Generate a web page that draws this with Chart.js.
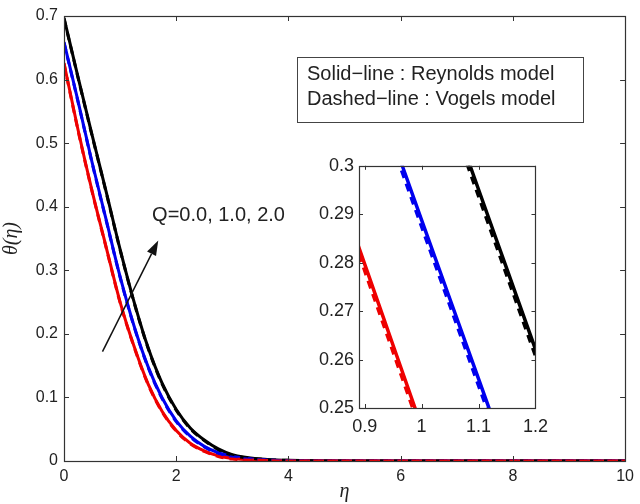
<!DOCTYPE html>
<html>
<head>
<meta charset="utf-8">
<script src="https://cdn.jsdelivr.net/npm/chart.js@4"></script>
<style>
  body { margin: 0; background: #fff; }
  #wrap { position: relative; width: 640px; height: 504px; }
  #main { position: absolute; left: 0; top: 0; }
  #inset { position: absolute; left: 316px; top: 150px; }
</style>
</head>
<body>
<div id="wrap">
  <canvas id="main" width="640" height="504"></canvas>
  <canvas id="inset" width="240" height="290"></canvas>
</div>
<script>
// ---- main plot data ----
const eta = [0, 0.25, 0.5, 0.75, 1, 1.25, 1.5, 1.75, 2, 2.25, 2.5, 2.75, 3, 3.5, 4, 5, 6, 7, 8, 9, 10];
const q0Solid  = [0.626, 0.521, 0.425, 0.337, 0.250, 0.180, 0.121, 0.078, 0.048, 0.028, 0.016, 0.008, 0.004, 0.001, 0, 0, 0, 0, 0, 0, 0];
const q1Solid  = [0.659, 0.566, 0.470, 0.380, 0.290, 0.212, 0.148, 0.099, 0.063, 0.039, 0.023, 0.013, 0.007, 0.002, 0.0005, 0, 0, 0, 0, 0, 0];
const q2Solid  = [0.697, 0.604, 0.513, 0.424, 0.333, 0.250, 0.178, 0.122, 0.081, 0.052, 0.033, 0.019, 0.010, 0.003, 0.001, 0, 0, 0, 0, 0, 0];
const q0Dashed = [0.625, 0.520, 0.424, 0.336, 0.249, 0.179, 0.120, 0.077, 0.047, 0.027, 0.015, 0.007, 0.003, 0.001, 0, 0, 0, 0, 0, 0, 0];
const q1Dashed = [0.658, 0.565, 0.469, 0.379, 0.289, 0.211, 0.147, 0.098, 0.062, 0.038, 0.022, 0.012, 0.006, 0.002, 0.0005, 0, 0, 0, 0, 0, 0];
const q2Dashed = [0.696, 0.603, 0.512, 0.423, 0.332, 0.249, 0.177, 0.121, 0.080, 0.051, 0.032, 0.018, 0.009, 0.003, 0.001, 0, 0, 0, 0, 0, 0];
const xTicks = [0, 2, 4, 6, 8, 10];
const yTicks = [0, 0.1, 0.2, 0.3, 0.4, 0.5, 0.6, 0.7];

// ---- inset (zoom) data ----
const insetEta = [0.85, 0.9, 0.95, 1.0, 1.05, 1.1, 1.15, 1.2, 1.25];
const inQ0Solid  = [0.2966, 0.2797, 0.2629, 0.2461, 0.2293, 0.2126, 0.1960, 0.1795, 0.1630];
const inQ1Solid  = [0.3384, 0.3218, 0.3053, 0.2888, 0.2724, 0.2560, 0.2396, 0.2233, 0.2070];
const inQ2Solid  = [0.3780, 0.3613, 0.3447, 0.3281, 0.3116, 0.2951, 0.2786, 0.2621, 0.2457];
const inQ0Dashed = [0.2954, 0.2785, 0.2617, 0.2449, 0.2281, 0.2114, 0.1948, 0.1783, 0.1618];
const inQ1Dashed = [0.3372, 0.3206, 0.3041, 0.2876, 0.2712, 0.2548, 0.2384, 0.2221, 0.2058];
const inQ2Dashed = [0.3768, 0.3601, 0.3435, 0.3269, 0.3104, 0.2939, 0.2774, 0.2609, 0.2445];
const insetXTicks = [0.9, 1, 1.1, 1.2];
const insetYTicks = [0.25, 0.26, 0.27, 0.28, 0.29, 0.3];

// annotation text and arrow (data units)
const qLabel = 'Q=0.0, 1.0, 2.0';
const qLabelAt = [1.57, 0.377];
const arrowFrom = [0.686, 0.172];
const arrowTo = [1.68, 0.347];
const legendLines = ['Solid\u2212line : Reynolds model', 'Dashed\u2212line : Vogels model'];

const RED = '#ee0000', BLUE = '#0000ee', BLACK = '#000000';
const SANS = '"Liberation Sans", Arial, Helvetica, sans-serif';

function pts(xs, ys) { return xs.map((v, i) => ({x: v, y: ys[i]})); }

function line(data, color, dashed, width) {
  return {
    data: data,
    borderColor: color,
    borderWidth: width,
    borderDash: dashed ? [8, 6] : [],
    pointRadius: 0,
    fill: false,
    cubicInterpolationMode: 'monotone'
  };
}

// frame + inward ticks on all four sides
function boxTicks(len) {
  return {
    id: 'boxTicks',
    afterDatasetsDraw(chart) {
      const {ctx, chartArea: a, scales: {x, y}} = chart;
      ctx.save();
      ctx.strokeStyle = '#333';
      ctx.lineWidth = 1;
      ctx.beginPath();
      x.ticks.forEach(t => {
        const px = Math.round(x.getPixelForValue(t.value)) + 0.5;
        ctx.moveTo(px, a.bottom); ctx.lineTo(px, a.bottom - len);
        ctx.moveTo(px, a.top); ctx.lineTo(px, a.top + len);
      });
      y.ticks.forEach(t => {
        const py = Math.round(y.getPixelForValue(t.value)) + 0.5;
        ctx.moveTo(a.left, py); ctx.lineTo(a.left + len, py);
        ctx.moveTo(a.right, py); ctx.lineTo(a.right - len, py);
      });
      ctx.stroke();
      ctx.lineWidth = 1.2;
      ctx.strokeRect(Math.round(a.left) + 0.5, Math.round(a.top) + 0.5,
                     Math.round(a.right - a.left), Math.round(a.bottom - a.top));
      ctx.restore();
    }
  };
}

const notes = {
  id: 'notes',
  afterDraw(chart) {
    const {ctx, scales: {x, y}} = chart;
    ctx.save();
    // arrow
    const x0 = x.getPixelForValue(arrowFrom[0]), y0 = y.getPixelForValue(arrowFrom[1]);
    const x1 = x.getPixelForValue(arrowTo[0]), y1 = y.getPixelForValue(arrowTo[1]);
    const ang = Math.atan2(y1 - y0, x1 - x0);
    const hl = 15, hw = 5;
    const bx = x1 - hl * Math.cos(ang), by = y1 - hl * Math.sin(ang);
    ctx.strokeStyle = '#111';
    ctx.fillStyle = '#111';
    ctx.lineWidth = 1.5;
    ctx.beginPath(); ctx.moveTo(x0, y0); ctx.lineTo(bx, by); ctx.stroke();
    ctx.beginPath();
    ctx.moveTo(x1, y1);
    ctx.lineTo(bx + hw * Math.sin(ang), by - hw * Math.cos(ang));
    ctx.lineTo(bx - hw * Math.sin(ang), by + hw * Math.cos(ang));
    ctx.closePath(); ctx.fill();
    // Q label
    ctx.font = '20px ' + SANS;
    ctx.fillStyle = '#222';
    ctx.textBaseline = 'alphabetic';
    ctx.fillText(qLabel, x.getPixelForValue(qLabelAt[0]), y.getPixelForValue(qLabelAt[1]));
    // legend box
    ctx.strokeStyle = '#444';
    ctx.lineWidth = 1;
    ctx.fillStyle = '#fff';
    ctx.fillRect(297, 57, 286, 65);
    ctx.strokeRect(297.5, 57.5, 286, 65);
    ctx.fillStyle = '#222';
    ctx.fillText(legendLines[0], 307, 80);
    ctx.fillText(legendLines[1], 307, 105);
    ctx.restore();
  }
};

const whiteArea = {
  id: 'whiteArea',
  beforeDraw(chart) {
    const {ctx, chartArea: a} = chart;
    ctx.save();
    ctx.fillStyle = '#fff';
    ctx.fillRect(a.left, a.top, a.right - a.left, a.bottom - a.top);
    ctx.restore();
  }
};

new Chart(document.getElementById('main').getContext('2d'), {
  type: 'line',
  data: {
    datasets: [
      line(pts(eta, q0Dashed), RED, true, 3),
      line(pts(eta, q1Dashed), BLUE, true, 3),
      line(pts(eta, q2Dashed), BLACK, true, 3),
      line(pts(eta, q0Solid), RED, false, 3),
      line(pts(eta, q1Solid), BLUE, false, 3),
      line(pts(eta, q2Solid), BLACK, false, 3)
    ]
  },
  options: {
    responsive: false,
    animation: false,
    devicePixelRatio: 1,
    layout: { padding: { top: 16, right: 12, left: 0, bottom: 0 } },
    plugins: { legend: { display: false }, tooltip: { enabled: false } },
    scales: {
      x: {
        type: 'linear', min: 0, max: 10,
        grid: { display: false, drawTicks: false },
        border: { display: false },
        afterBuildTicks: s => { s.ticks = xTicks.map(v => ({value: v})); },
        afterFit: s => { s.height = 43; },
        ticks: { padding: 6, color: '#222', font: { size: 16, family: SANS }, callback: v => String(v) },
        title: { display: true, text: '\u03b7', padding: 0, color: '#222',
                 font: { size: 20, style: 'italic', family: '"Liberation Serif", "DejaVu Serif", serif' } }
      },
      y: {
        type: 'linear', min: 0, max: 0.7,
        grid: { display: false, drawTicks: false },
        border: { display: false },
        afterBuildTicks: s => { s.ticks = yTicks.map(v => ({value: v})); },
        afterFit: s => { s.width = 64; },
        ticks: { padding: 6, color: '#222', font: { size: 16, family: SANS }, callback: v => String(v) },
        title: { display: true, text: '\u03b8(\u03b7)', padding: 0, color: '#222',
                 font: { size: 20, style: 'italic', family: '"Liberation Serif", "DejaVu Serif", serif' } }
      }
    }
  },
  plugins: [boxTicks(5), notes]
});

new Chart(document.getElementById('inset').getContext('2d'), {
  type: 'line',
  data: {
    datasets: [
      line(pts(insetEta, inQ0Dashed), RED, true, 4),
      line(pts(insetEta, inQ1Dashed), BLUE, true, 4),
      line(pts(insetEta, inQ2Dashed), BLACK, true, 4),
      line(pts(insetEta, inQ0Solid), RED, false, 3.5),
      line(pts(insetEta, inQ1Solid), BLUE, false, 3.5),
      line(pts(insetEta, inQ2Solid), BLACK, false, 3.5)
    ]
  },
  options: {
    responsive: false,
    animation: false,
    devicePixelRatio: 1,
    layout: { padding: { top: 11, right: 17, left: 0, bottom: 0 } },
    plugins: { legend: { display: false }, tooltip: { enabled: false } },
    scales: {
      x: {
        type: 'linear', min: 0.89, max: 1.2,
        grid: { display: false, drawTicks: false },
        border: { display: false },
        afterBuildTicks: s => { s.ticks = insetXTicks.map(v => ({value: v})); },
        afterFit: s => { s.height = 32; },
        ticks: { padding: 8, color: '#222', font: { size: 18, family: SANS }, callback: v => String(v) }
      },
      y: {
        type: 'linear', min: 0.25, max: 0.3,
        grid: { display: false, drawTicks: false },
        border: { display: false },
        afterBuildTicks: s => { s.ticks = insetYTicks.map(v => ({value: v})); },
        afterFit: s => { s.width = 43; },
        ticks: { padding: 5, color: '#222', font: { size: 18, family: SANS }, callback: v => String(v) }
      }
    }
  },
  plugins: [whiteArea, boxTicks(4)]
});
</script>
</body>
</html>
